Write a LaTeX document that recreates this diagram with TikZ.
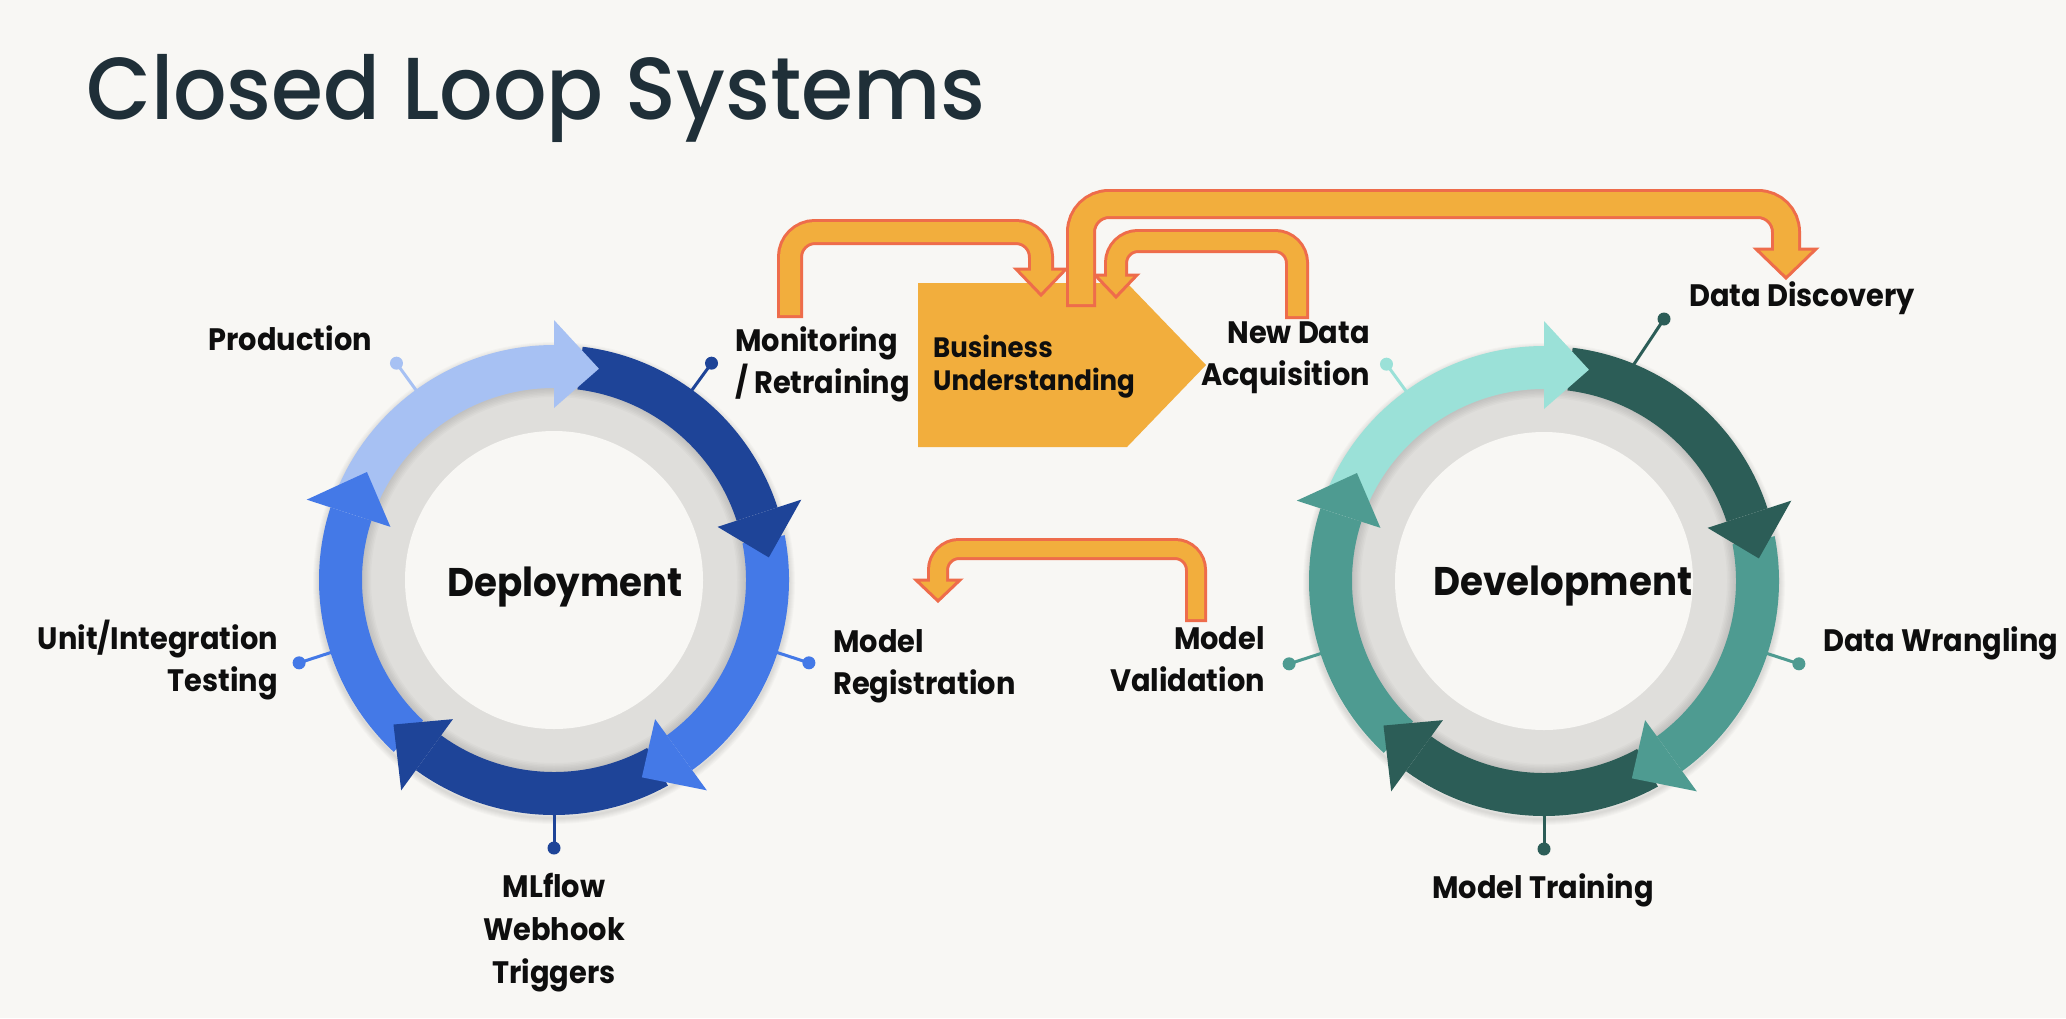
\documentclass[tikz,border=0pt]{standalone}
\usepackage{fontspec}
\setmainfont{Poppins}
\newfontfamily\lblfont{Poppins}[FakeStretch=0.93]
\newfontfamily\titlefont{Poppins Medium}[FakeStretch=0.955]
\usetikzlibrary{calc}

\definecolor{bgc}{HTML}{F8F7F4}
\definecolor{titlec}{HTML}{1F2F38}
\definecolor{txt}{HTML}{0E0E0E}
\definecolor{ringgrey}{HTML}{DFDEDB}
\definecolor{blueL}{HTML}{A7C1F3}
\definecolor{blueD}{HTML}{1E4498}
\definecolor{blueM}{HTML}{4479E7}
\definecolor{tealL}{HTML}{9BE1D8}
\definecolor{tealD}{HTML}{2C5D57}
\definecolor{tealM}{HTML}{4E9B91}
\definecolor{afill}{HTML}{F2AE3D}
\definecolor{aline}{HTML}{EE6C4B}

% outline width of the block arrows
\def\alw{3}

% coloured band of a cycle ring: centre, start angle, end angle, colour
\newcommand\ringbody[4]{%
  \fill[#4] ($(#1)+(#2:235)$) arc[start angle=#2,end angle=#3,radius=235]
    -- ($(#1)+(#3:192)$) arc[start angle=#3,end angle=#2,radius=192] -- cycle;}
% arrow head closing a band: centre, base angle, colour
\newcommand\ringhead[3]{%
  \fill[#3] ($(#1)+(#2:260)$) -- ($(#1)+(#2-12:216)$) -- ($(#1)+(#2:172)$) -- cycle;}
% pin from the ring to a dot: centre, angle, colour, dot coordinate name
\newcommand\ringpin[4]{%
  \coordinate (#4) at ($(#1)+(#2:268)$);
  \draw[#3, line width=3pt] ($(#1)+(#2:234)$) -- (#4);
  \fill[#3] (#4) circle[radius=6.5];}

% U-shaped block arrow:
% x1, y1 (tail end), yt (bar), x2, yb (head base), ytip, width, head half width, radius
\newcommand\blockarrow[9]{%
  \filldraw[afill, draw=aline, line width=\alw pt, line join=miter]
    (#4-#8,-#5) -- (#4,-#6) -- (#4+#8,-#5) -- cycle;
  \draw[aline, line width=#7pt, rounded corners=#9pt]
    (#1,-#2) -- (#1,-#3) -- (#4,-#3) -- (#4,-#5);
  \draw[afill, line width={(#7-2*\alw)*1pt}, rounded corners=#9pt]
    (#1,-#2+\alw) -- (#1,-#3) -- (#4,-#3) -- (#4,-#5-\alw);}

\begin{document}
\begin{tikzpicture}[x=1pt,y=1pt,
  lbl/.style={inner sep=0pt, text=txt, font=\lblfont\fontsize{31}{42}\selectfont\bfseries},
  hub/.style={inner sep=0pt, text=txt, font=\lblfont\fontsize{40}{48}\selectfont\bfseries}]

\fill[bgc] (0,0) rectangle (2066,-1018);
\useasboundingbox (0,0) rectangle (2066,-1018);

\node[anchor=base west, inner sep=0pt, text=titlec,
  font=\titlefont\fontsize{88}{100}\selectfont] (title) at (86,-119) {Closed Loop Systems};

\coordinate (dep) at (554,-580);
\coordinate (dev) at (1544,-581);

% grey inner rings with soft shading
\foreach \c in {dep,dev}{
  \foreach \k in {1,...,6}
    \draw[black, opacity=0.018, line width=\k*2pt] ($(\c)+(0,-3)$) circle[radius=235];
  \fill[ringgrey] (\c) circle[radius=200];
  \foreach \k in {1,...,6}
    \draw[black, opacity=0.02, line width=\k*3pt] (\c) circle[radius=192];
  \fill[bgc] (\c) circle[radius=149];
}

% deployment cycle
\ringbody{dep}{160}{90}{blueL}
\ringbody{dep}{83}{18}{blueD}
\ringbody{dep}{11}{-54}{blueM}
\ringbody{dep}{-61}{-126}{blueD}
\ringbody{dep}{-133}{-198}{blueM}
\ringhead{dep}{90}{blueL}
\ringhead{dep}{18}{blueD}
\ringhead{dep}{-54}{blueM}
\ringhead{dep}{-126}{blueD}
\ringhead{dep}{-198}{blueM}

% development cycle
\ringbody{dev}{160}{90}{tealL}
\ringbody{dev}{83}{18}{tealD}
\ringbody{dev}{11}{-54}{tealM}
\ringbody{dev}{-61}{-126}{tealD}
\ringbody{dev}{-133}{-198}{tealM}
\ringhead{dev}{90}{tealL}
\ringhead{dev}{18}{tealD}
\ringhead{dev}{-54}{tealM}
\ringhead{dev}{-126}{tealD}
\ringhead{dev}{-198}{tealM}

% pins
\ringpin{dep}{126}{blueL}{p-prod}
\ringpin{dep}{54}{blueD}{p-mon}
\ringpin{dep}{-18}{blueM}{p-reg}
\ringpin{dep}{-90}{blueD}{p-hook}
\ringpin{dep}{198}{blueM}{p-unit}
\ringpin{dev}{126}{tealL}{p-new}
\ringpin{dev}{-18}{tealM}{p-wrang}
\ringpin{dev}{-90}{tealD}{p-train}
\ringpin{dev}{198}{tealM}{p-valid}
\coordinate (p-disc) at (1664,-319);
\draw[tealD, line width=3pt] ($(dev)+(67.5:234)$) -- (p-disc);
\fill[tealD] (p-disc) circle[radius=6.5];

% hub labels
\node[hub, anchor=base] (deploy) at (565,-596) {Deployment};
\node[hub, anchor=base] (develop) at (1563,-595) {Development};

% business understanding block
\fill[afill] (918,-283) -- (1127,-283) -- (1206,-365) -- (1127,-447) -- (918,-447) -- cycle;
\node[inner sep=0pt, text=txt, anchor=base west, align=left,
  font=\lblfont\fontsize{28}{33}\selectfont\bfseries] (bu) at (933,-390) {Business\\Understanding};

% stage labels (multi-line labels are placed by their last baseline)
\node[lbl, anchor=base east] (prod) at (372,-350) {Production};
\node[lbl, anchor=base west, align=left] (mon) at (735,-393) {Monitoring\\/ Retraining};
\node[lbl, anchor=base east, align=right] (newd) at (1370,-385) {New Data\\Acquisition};
\node[lbl, anchor=base west] (disc) at (1689,-306) {Data Discovery};
\node[lbl, anchor=base west] (wrang) at (1823,-651) {Data Wrangling};
\node[lbl, anchor=base] (train) at (1543,-898) {Model Training};
\node[lbl, anchor=base east, align=right] (valid) at (1265,-691) {Model\\Validation};
\node[lbl, anchor=base west, align=left] (reg) at (833,-694) {Model\\Registration};
\node[lbl, anchor=base east, align=right] (unit) at (278,-691) {Unit/Integration\\Testing};
\node[lbl, anchor=base, align=center,
  font=\lblfont\fontsize{31}{43}\selectfont\bfseries] (hook) at (554,-983) {MLflow\\Webhook\\Triggers};

% feedback arrows
\blockarrow{790}{318}{232}{1041}{269}{295}{26}{25}{25}
\blockarrow{1297}{319}{241}{1116}{275}{297}{24}{21}{22}
\blockarrow{1081}{307}{204}{1786}{249}{278}{30}{30}{28}
\blockarrow{1196}{622}{549}{938}{580}{601}{22}{22}{21}

\end{tikzpicture}
\end{document}
